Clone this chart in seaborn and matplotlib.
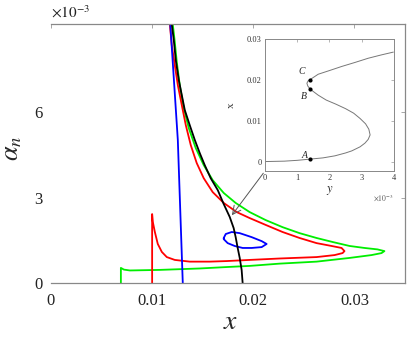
import matplotlib
matplotlib.use("Agg")
import matplotlib.pyplot as plt
import seaborn as sns

# main panel: x and alpha_n (alpha_n in units of 1e-3)
RED_X = [0.0100, 0.0100, 0.01007, 0.01027, 0.01056, 0.01096, 0.01145, 0.01224, 0.01372, 0.01570,
         0.01737, 0.01964, 0.02261, 0.02626, 0.02804, 0.02883, 0.02902, 0.02873, 0.02774, 0.02626,
         0.02458, 0.02290, 0.02122, 0.01964, 0.01836, 0.01708, 0.01599, 0.01510, 0.01441, 0.01382,
         0.01333, 0.01293, 0.01254, 0.01224, 0.01194, 0.01175, 0.01165]
RED_Y = [0.0, 2.42, 2.14, 1.79, 1.37, 1.09, 0.91, 0.81, 0.75, 0.75,
         0.77, 0.81, 0.86, 0.91, 0.98, 1.05, 1.12, 1.23, 1.30, 1.40,
         1.58, 1.79, 2.04, 2.28, 2.49, 2.81, 3.19, 3.68, 4.21, 4.84,
         5.54, 6.25, 6.95, 7.65, 8.35, 9.09, 9.58]

GREEN_X = [0.00691, 0.00691, 0.00721, 0.00780, 0.01076, 0.01471, 0.01737, 0.01964, 0.02261, 0.02626,
           0.02952, 0.03169, 0.03268, 0.03297, 0.03228, 0.03100, 0.02952, 0.02784, 0.02626, 0.02458,
           0.02290, 0.02122, 0.01964, 0.01826, 0.01708, 0.01599, 0.01510, 0.01431, 0.01362, 0.01313,
           0.01273, 0.01244, 0.01224, 0.01204, 0.01194]
GREEN_Y = [0.0, 0.53, 0.47, 0.44, 0.46, 0.51, 0.56, 0.60, 0.68, 0.75,
           0.88, 0.98, 1.05, 1.12, 1.18, 1.23, 1.30, 1.44, 1.58, 1.75,
           1.96, 2.21, 2.49, 2.81, 3.16, 3.61, 4.14, 4.74, 5.44, 6.14,
           6.95, 7.75, 8.46, 9.09, 9.58]

BLUE_X = [0.01170, 0.01254, 0.01303]
BLUE_Y = [9.60, 5.02, 0.0]

LOOP_X = [0.01708, 0.01728, 0.01787, 0.01866, 0.01984, 0.02083, 0.02132, 0.02083, 0.01984,
          0.01895, 0.01816, 0.01747, 0.01708, 0.01708]
LOOP_Y = [1.58, 1.72, 1.79, 1.75, 1.61, 1.47, 1.37, 1.26, 1.23,
          1.23, 1.30, 1.40, 1.54, 1.58]

BLACK_X = [0.01180, 0.01194, 0.01214, 0.01234, 0.01264, 0.01293, 0.01323, 0.01372, 0.01422, 0.01471,
           0.01520, 0.01579, 0.01649, 0.01708, 0.01767, 0.01806, 0.01826, 0.01846, 0.01866, 0.01885,
           0.01895]
BLACK_Y = [9.60, 9.09, 8.53, 7.82, 7.12, 6.60, 6.07, 5.54, 5.02, 4.56,
           4.14, 3.68, 3.26, 2.77, 2.32, 1.93, 1.61, 1.23, 0.88, 0.46,
           0.0]

X_TICKS = [0, 0.01, 0.02, 0.03]
X_TICKLABELS = ["0", "0.01", "0.02", "0.03"]
Y_TICKS = [0, 3, 6]

# inset: x against y (y in units of 1e-3)
S_Y = [0.0, 0.6, 1.0, 1.4, 1.8, 2.17, 2.5, 2.69, 2.95, 3.10, 3.20, 3.26,
       3.22, 3.12, 2.95, 2.75, 2.5, 2.2, 1.9, 1.65, 1.48, 1.40, 1.33, 1.30, 1.34, 1.40,
       1.65, 2.0, 2.38, 2.8, 3.2, 3.6, 3.98]
S_X = [0.0001, 0.0002, 0.0004, 0.0007, 0.0010, 0.0015, 0.0022, 0.0027, 0.0037, 0.0046, 0.0055, 0.0066,
       0.0080, 0.0093, 0.0106, 0.0119, 0.0130, 0.0141, 0.0151, 0.0163, 0.0173, 0.0178, 0.0185, 0.0192,
       0.0198, 0.0201,
       0.0214, 0.0223, 0.0233, 0.0243, 0.0253, 0.0261, 0.0268]
PT_NAMES = ["A", "B", "C"]
PT_Y = [1.40, 1.40, 1.40]
PT_X = [0.0007, 0.0178, 0.0201]
LBL_Y = [1.24, 1.21, 1.15]
LBL_X = [0.0017, 0.0159, 0.0220]
INSET_XTICKS = [0, 1, 2, 3, 4]
INSET_YTICKS = [0, 0.01, 0.02, 0.03]
INSET_YTICKLABELS = ["0", "0.01", "0.02", "0.03"]

sns.set_theme(style="white")
plt.rcParams["font.family"] = ["Liberation Serif", "DejaVu Serif"]
plt.rcParams["mathtext.fontset"] = "stix"

fig = plt.figure(figsize=(4.07, 3.39), dpi=100)
ax = fig.add_axes([0.1253, 0.1652, 0.8697, 0.7638])

lw = 1.3
sns.lineplot(x=GREEN_X, y=GREEN_Y, sort=False, estimator=None, color="#00ee00", lw=lw, ax=ax)
sns.lineplot(x=RED_X, y=RED_Y, sort=False, estimator=None, color="#ff0000", lw=lw, ax=ax)
sns.lineplot(x=BLUE_X, y=BLUE_Y, sort=False, estimator=None, color="#0000ff", lw=lw, ax=ax)
sns.lineplot(x=LOOP_X, y=LOOP_Y, sort=False, estimator=None, color="#0000ff", lw=lw, ax=ax)
sns.lineplot(x=BLACK_X, y=BLACK_Y, sort=False, estimator=None, color="black", lw=lw, ax=ax)

ax.set_xlim(0, 0.035)
ax.set_ylim(0, 9.09)
ax.set_xticks(X_TICKS)
ax.set_xticklabels(X_TICKLABELS)
ax.set_yticks(Y_TICKS)
ax.tick_params(direction="in", length=3, width=0.6, color="#999999", top=True, right=True,
               labelsize=12, labelcolor="#222222", pad=7)
ax.tick_params(axis="y", pad=6)
for side, sp in ax.spines.items():
    sp.set_color("#888888")
    sp.set_linewidth(0.9)
ax.spines["left"].set_visible(False)
ax.set_xlabel("$x$", fontsize=20)
ax.xaxis.set_label_coords(0.506, -0.105)
ax.set_ylabel(r"$\alpha_n$", fontsize=19)
ax.yaxis.set_label_coords(-0.075, 0.52)
ax.text(0.0, 1.012, r"$\times10^{-3}$", transform=ax.transAxes, ha="left", va="bottom",
        fontsize=11, color="#222222")

ins = fig.add_axes([0.651, 0.4956, 0.317, 0.3894])
sns.lineplot(x=S_Y, y=S_X, sort=False, estimator=None, color="#777777", lw=0.7, ax=ins)
sns.scatterplot(x=PT_Y, y=PT_X, color="black", s=9, edgecolor="black", linewidth=0, ax=ins, zorder=3)
for name, lx, ly in zip(PT_NAMES, LBL_Y, LBL_X):
    ins.text(lx, ly, name, fontsize=7, style="italic", ha="center", va="center", color="#222222")
ins.set_xlim(0, 4)
ins.set_ylim(-0.0022, 0.03)
ins.set_xticks(INSET_XTICKS)
ins.set_yticks(INSET_YTICKS)
ins.set_yticklabels(INSET_YTICKLABELS)
ins.tick_params(direction="in", length=2, width=0.5, color="#999999", top=True, right=True,
                labelsize=6, labelcolor="#333333", pad=2.5)
for sp in ins.spines.values():
    sp.set_color("#888888")
    sp.set_linewidth(0.7)
ins.set_xlabel("$y$", fontsize=9, labelpad=1)
ins.set_ylabel("x", fontsize=8, labelpad=8, color="#333333")
ins.text(1.0, -0.2, r"$\times10^{-3}$", transform=ins.transAxes, ha="right", va="center",
         fontsize=5.5, color="#555555")

ax.annotate("", xy=(0.01772, 2.30), xycoords="data", xytext=(0, 0), textcoords=ins.transAxes,
            arrowprops=dict(arrowstyle="->,head_length=0.5,head_width=0.25", color="#555555", lw=0.7))

fig.savefig("out.png", dpi=100)
